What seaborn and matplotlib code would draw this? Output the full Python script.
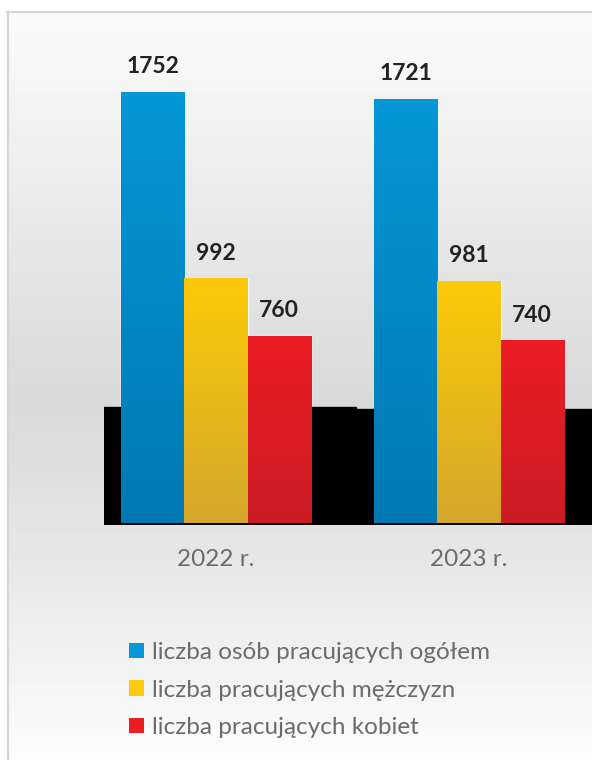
import numpy as np
import pandas as pd
import matplotlib
matplotlib.use('Agg')
import matplotlib.pyplot as plt
from matplotlib.colors import LinearSegmentedColormap
from matplotlib.patches import Rectangle, Patch
import seaborn as sns

sns.set_style('white')
plt.rcParams['font.family'] = ['Lato', 'DejaVu Sans']

# dane
lata = ['2022 r.', '2023 r.']
serie = ['liczba osób pracujących ogółem',
         'liczba pracujących mężczyzn',
         'liczba pracujących kobiet']
ogolem = [1752, 1721]
mezczyzni = [992, 981]
kobiety = [760, 740]

kolory_gora = ['#0597d8', '#fcca08', '#ec1c24']
kolory_dol = ['#0079b3', '#d4a72b', '#cb1d25']

df = pd.DataFrame({
    'rok': lata * 3,
    'seria': [s for s in serie for _ in lata],
    'wartosc': ogolem + mezczyzni + kobiety,
})

W, H = 592, 760
fig = plt.figure(figsize=(W / 100, H / 100), dpi=100)
fig.patch.set_facecolor('white')

# background gradient + frame
bg = fig.add_axes([0, 0, 1, 1], zorder=-10)
stops = [(0, 0.985), (15, 0.98), (100, 0.955), (200, 0.92), (400, 0.85),
         (560, 0.905), (690, 0.96), (760, 0.99)]
ys = np.arange(H)
vals = np.interp(ys, [s[0] for s in stops], [s[1] for s in stops])
img = np.repeat(vals.reshape(-1, 1), 2, axis=1)
bg.imshow(img, extent=[0, W, H, 0], cmap='gray', vmin=0, vmax=1, aspect='auto')
bg.add_patch(Rectangle((0, 0), 7, H, color='white', zorder=3))
bg.add_patch(Rectangle((0, 0), W, 11, color='white', zorder=3))
bg.plot([7.5, 7.5], [11, H], color='#d6d6d6', lw=1.6, zorder=4)
bg.plot([7, W], [11.5, 11.5], color='#d6d6d6', lw=1.6, zorder=4)
bg.set_xlim(0, W)
bg.set_ylim(H, 0)
bg.axis('off')

# main axes
px_per_unit = 431 / 1752
y0 = -2 / px_per_unit
y1 = (523 - 40) / px_per_unit
x0 = (104 - 216) / 253
x1 = (592 - 216) / 253
ax = fig.add_axes([104 / W, (H - 525) / H, (W - 104) / W, (525 - 40) / H])
ax.patch.set_alpha(0)

sns.barplot(data=df, x='rok', y='wartosc', hue='seria', palette=kolory_gora,
            width=0.75, saturation=1, legend=False, ax=ax)

# gradient fill of bars
for cont, top, bot in zip(ax.containers, kolory_gora, kolory_dol):
    cmap = LinearSegmentedColormap.from_list('g', [bot, top])
    for bar in cont:
        bx, bw, bh = bar.get_x(), bar.get_width(), bar.get_height()
        grad = np.linspace(0, 1, 256).reshape(-1, 1)
        ax.imshow(grad, extent=[bx, bx + bw, 0, bh], origin='lower', cmap=cmap,
                  aspect='auto', zorder=2)
        bar.set_facecolor('none')
    ax.bar_label(cont, fmt='%d', padding=11, fontsize=16.5, fontweight='bold',
                 color='#222222')

# black floor
ax.add_patch(Rectangle((x0, y0), (356 - 104) / 253, (523 - 407) / px_per_unit - y0,
                       color='black', zorder=1))
ax.add_patch(Rectangle((0.557, y0), x1 - 0.557, (523 - 409) / px_per_unit - y0,
                       color='black', zorder=1))

ax.set_xlim(x0, x1)
ax.set_ylim(y0, y1)
ax.set_xlabel('')
ax.set_ylabel('')
ax.set_yticks([])
ax.tick_params(axis='x', length=0, pad=17, labelsize=17.5, labelcolor='#6b6b6b')
sns.despine(ax=ax, left=True, bottom=True)

handles = [Patch(facecolor=c, edgecolor='none') for c in kolory_gora]
fig.legend(handles, serie, loc='upper left', bbox_to_anchor=(129 / W, (H - 642) / H),
           frameon=False, fontsize=17.5, labelcolor='#6b6b6b', handlelength=0.6,
           handleheight=0.6, handletextpad=0.35, labelspacing=0.68,
           borderpad=0, borderaxespad=0)

fig.savefig('out.png', dpi=100)
